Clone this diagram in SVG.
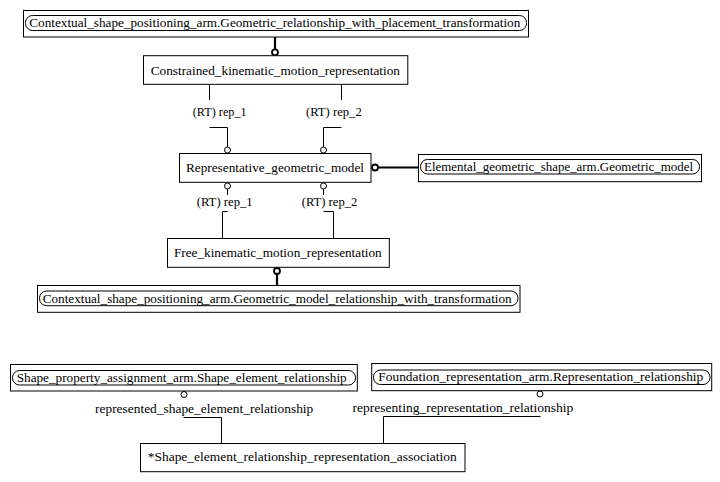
<svg xmlns="http://www.w3.org/2000/svg" width="720" height="482" viewBox="0 0 720 482">
<style>
.box{fill:#fff;stroke:#000;stroke-width:1}
.ref{fill:none;stroke:#000;stroke-width:1}
.t{font-family:"Liberation Serif","Times New Roman",serif;font-size:13.3px;fill:#000}
.lbl{font-family:"Liberation Serif","Times New Roman",serif;font-size:13px;fill:#000}
.thin{fill:none;stroke:#000;stroke-width:1}
.thick{fill:none;stroke:#000;stroke-width:2.2}
.c{fill:#fff;stroke:#000;stroke-width:1}
.ct{fill:#fff;stroke:#000;stroke-width:1.8}
</style>
<rect width="720" height="482" fill="#fff"/>
<g id="connectors">
  <line class="thick" x1="275" y1="37" x2="275" y2="49"/>
  <circle class="ct" cx="275" cy="52.3" r="3"/>
  <polyline class="thin" points="209.5,84.5 209.5,100"/>
  <polyline class="thin" points="209.5,127.5 227.5,127.5 227.5,147"/>
  <circle class="c" cx="227.5" cy="150" r="3"/>
  <polyline class="thin" points="341.5,84.5 341.5,100"/>
  <polyline class="thin" points="341.5,127.5 323.5,127.5 323.5,147"/>
  <circle class="c" cx="323.5" cy="150" r="3"/>
  <circle class="c" cx="227.5" cy="186" r="3"/>
  <polyline class="thin" points="227.5,189 227.5,195"/>
  <polyline class="thin" points="227.5,211.5 222.5,211.5 222.5,238.5"/>
  <circle class="c" cx="323.5" cy="186" r="3"/>
  <polyline class="thin" points="323.5,189 323.5,195"/>
  <polyline class="thin" points="323.5,211.5 333.5,211.5 333.5,238.5"/>
  <circle class="ct" cx="375" cy="167.5" r="3"/>
  <line class="thick" x1="378" y1="167.5" x2="418.5" y2="167.5"/>
  <circle class="ct" cx="277" cy="271" r="3"/>
  <line class="thick" x1="277" y1="274" x2="277" y2="285"/>
  <circle class="c" cx="184" cy="394.5" r="3"/>
  <polyline class="thin" points="183.5,417.5 221.5,417.5 221.5,443.5"/>
  <circle class="c" cx="540" cy="394" r="3"/>
  <polyline class="thin" points="540.5,416.5 383.5,416.5 383.5,443.5"/>
  <text class="lbl" x="192.7" y="116" textLength="54" lengthAdjust="spacingAndGlyphs">(RT) rep_1</text>
  <text class="lbl" x="306" y="116" textLength="55.7" lengthAdjust="spacingAndGlyphs">(RT) rep_2</text>
  <text class="lbl" x="196.7" y="206" textLength="56" lengthAdjust="spacingAndGlyphs">(RT) rep_1</text>
  <text class="lbl" x="301.7" y="206" textLength="55.6" lengthAdjust="spacingAndGlyphs">(RT) rep_2</text>
  <text class="t" x="95" y="412.7" textLength="218.3" lengthAdjust="spacingAndGlyphs">represented_shape_element_relationship</text>
  <text class="t" x="352.6" y="412.3" textLength="220.7" lengthAdjust="spacingAndGlyphs">representing_representation_relationship</text>
</g>
<g id="n_top">
  <rect class="box" x="23.5" y="10.5" width="505" height="26.5"/>
  <rect class="ref" x="25.5" y="15.5" width="501" height="15" rx="7" ry="7"/>
  <text class="t" x="29.3" y="27.3" textLength="491" lengthAdjust="spacingAndGlyphs">Contextual_shape_positioning_arm.Geometric_relationship_with_placement_transformation</text>
</g>
<g id="n_constrained">
  <rect class="box" x="143.5" y="55.7" width="264.3" height="28.6"/>
  <text class="t" x="150.7" y="74.5" textLength="249.3" lengthAdjust="spacingAndGlyphs">Constrained_kinematic_motion_representation</text>
</g>
<g id="n_repgeom">
  <rect class="box" x="179.5" y="153.5" width="191.5" height="28.8"/>
  <text class="t" x="186" y="171.7" textLength="178" lengthAdjust="spacingAndGlyphs">Representative_geometric_model</text>
</g>
<g id="n_elemental">
  <rect class="box" x="418.5" y="154.5" width="283" height="27.2"/>
  <rect class="ref" x="420.5" y="159.5" width="279" height="14.5" rx="7" ry="7"/>
  <text class="t" x="424" y="171" textLength="269" lengthAdjust="spacingAndGlyphs">Elemental_geometric_shape_arm.Geometric_model</text>
</g>
<g id="n_free">
  <rect class="box" x="167.5" y="238.5" width="221.8" height="28.8"/>
  <text class="t" x="174" y="256.7" textLength="207.7" lengthAdjust="spacingAndGlyphs">Free_kinematic_motion_representation</text>
</g>
<g id="n_bottomctx">
  <rect class="box" x="37.5" y="285.5" width="482.5" height="26.8"/>
  <rect class="ref" x="39.5" y="291" width="478.5" height="14.7" rx="7" ry="7"/>
  <text class="t" x="42.7" y="303.3" textLength="469" lengthAdjust="spacingAndGlyphs">Contextual_shape_positioning_arm.Geometric_model_relationship_with_transformation</text>
</g>
<g id="n_shapeprop">
  <rect class="box" x="10.5" y="364.5" width="346.8" height="26.5"/>
  <rect class="ref" x="12.5" y="370.5" width="343" height="14.5" rx="7" ry="7"/>
  <text class="t" x="16.7" y="381.7" textLength="330" lengthAdjust="spacingAndGlyphs">Shape_property_assignment_arm.Shape_element_relationship</text>
</g>
<g id="n_foundation">
  <rect class="box" x="371.7" y="363.5" width="340" height="27.2"/>
  <rect class="ref" x="373.5" y="370" width="336.5" height="14.5" rx="7" ry="7"/>
  <text class="t" x="378.3" y="381" textLength="325" lengthAdjust="spacingAndGlyphs">Foundation_representation_arm.Representation_relationship</text>
</g>
<g id="n_assoc">
  <rect class="box" x="140.5" y="443.5" width="324.5" height="28.2"/>
  <text class="t" x="147.7" y="461" textLength="309" lengthAdjust="spacingAndGlyphs">*Shape_element_relationship_representation_association</text>
</g>
</svg>
